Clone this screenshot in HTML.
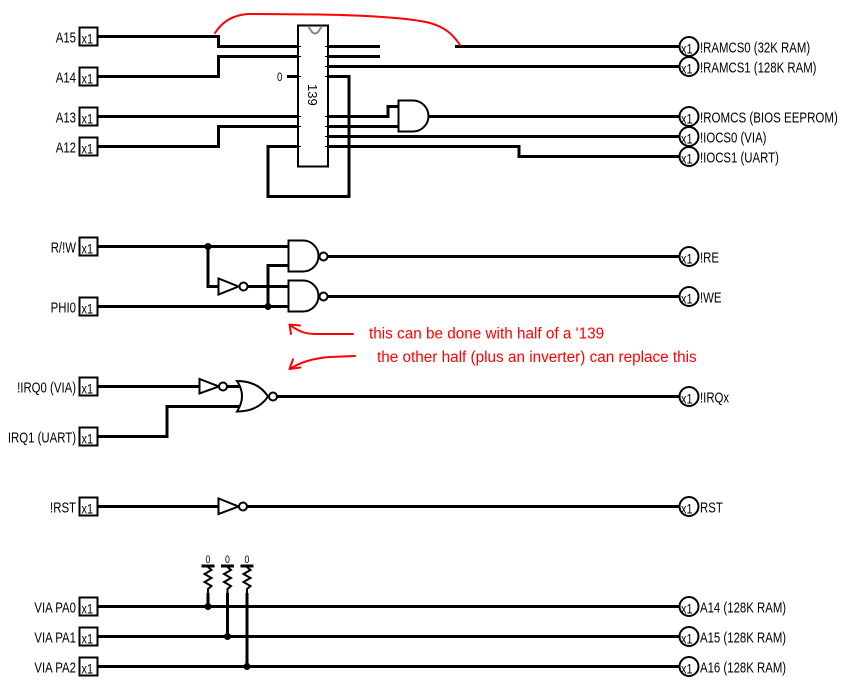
<!DOCTYPE html>
<html>
<head>
<meta charset="utf-8">
<style>
  html, body { margin: 0; padding: 0; background: #fff; }
  svg { display: block; }
  text { font-family: "Liberation Sans", Arial, sans-serif; }
</style>
</head>
<body>
<svg width="845" height="681" viewBox="0 0 845 681" xmlns="http://www.w3.org/2000/svg">
  <rect x="0" y="0" width="845" height="681" fill="#fff"/>

  <!-- wires -->
  <g fill="none" stroke="#000" stroke-width="3" stroke-linejoin="miter">
    <path d="M98 36.5 H218.5 V46.5 H298"/>
    <path d="M328 46.5 H380"/>
    <path d="M455 46.5 H680"/>
    <path d="M98 76.5 H218.5 V56.5 H298"/>
    <path d="M328 56.5 H380"/>
    <path d="M328 66.5 H680"/>
    <path d="M287 76.5 H298"/>
    <path d="M328 76.5 H349 V196.5 H268 V146.5 H298"/>
    <path d="M98 116.5 H298"/>
    <path d="M328 116.5 H388 V106.5 H399"/>
    <path d="M98 146.5 H218.5 V126.5 H298"/>
    <path d="M328 126.5 H399"/>
    <path d="M428 116.5 H680"/>
    <path d="M328 136.5 H680"/>
    <path d="M328 146.5 H519 V156.5 H680"/>

    <path d="M98 246.5 H289"/>
    <path d="M208 246.5 V286.5 H219"/>
    <path d="M248 286.5 H289"/>
    <path d="M98 306.5 H289"/>
    <path d="M268 306.5 V265.5 H289"/>
    <path d="M327 256.5 H680"/>
    <path d="M327 296.5 H680"/>

    <path d="M98 386.5 H200"/>
    <path d="M227 386.5 H241"/>
    <path d="M98 436.5 H167 V406.5 H241"/>
    <path d="M277 396.5 H680"/>

    <path d="M98 506.5 H219"/>
    <path d="M247 506.5 H680"/>

    <path d="M98 606.5 H680"/>
    <path d="M98 636.5 H680"/>
    <path d="M98 666.5 H680"/>
    <path d="M208 593 V606.5"/>
    <path d="M227.5 593 V636.5"/>
    <path d="M247 593 V666.5"/>
  </g>

  <!-- 139 chip -->
  <rect x="298" y="25.5" width="30" height="141" fill="#fff" stroke="#000" stroke-width="2"/>
  <path d="M308 26 L312 32 Q315 35 318 32 L322 26" fill="none" stroke="#888" stroke-width="2"/>
  <g stroke="#000" stroke-width="1">
    <path d="M296 46.5 H301 M296 56.5 H301 M296 76.5 H301 M296 116.5 H301 M296 126.5 H301 M296 146.5 H301"/>
    <path d="M325 46.5 H330 M325 56.5 H330 M325 66.5 H330 M325 76.5 H330 M325 116.5 H330 M325 126.5 H330 M325 136.5 H330 M325 146.5 H330"/>
  </g>
  <text transform="translate(308,84) rotate(90)" font-size="13" fill="#000">139</text>
  <text transform="translate(277,81) scale(0.8,1)" font-size="12" fill="#000">0</text>

  <!-- AND gate -->
  <path d="M398.5 100.5 H413 A15.5 15.5 0 0 1 413 131.5 H398.5 Z" fill="#fff" stroke="#000" stroke-width="2"/>

  <!-- NAND gates -->
  <path d="M288.5 240.5 H303 A15.5 15.5 0 0 1 303 271.5 H288.5 Z" fill="#fff" stroke="#000" stroke-width="2"/>
  <circle cx="323.5" cy="256.5" r="4" fill="#fff" stroke="#000" stroke-width="2"/>
  <path d="M288.5 280.5 H303 A15.5 15.5 0 0 1 303 311.5 H288.5 Z" fill="#fff" stroke="#000" stroke-width="2"/>
  <circle cx="323.5" cy="296.5" r="4" fill="#fff" stroke="#000" stroke-width="2"/>

  <!-- inverter R/W -->
  <path d="M218.5 278.5 L218.5 294.5 L238.5 286.5 Z" fill="#fff" stroke="#000" stroke-width="2"/>
  <circle cx="243.5" cy="286.5" r="4" fill="#fff" stroke="#000" stroke-width="2"/>

  <!-- inverter IRQ0 -->
  <path d="M199.5 379 L199.5 393.5 L219 386.5 Z" fill="#fff" stroke="#000" stroke-width="2"/>
  <circle cx="223" cy="386.5" r="4" fill="#fff" stroke="#000" stroke-width="2"/>

  <!-- NOR gate -->
  <path d="M237 381 Q258 381 268 396.5 Q258 411.5 237 411.5 Q247 396 237 381 Z" fill="#fff" stroke="#000" stroke-width="2"/>
  <circle cx="273" cy="396.5" r="4" fill="#fff" stroke="#000" stroke-width="2"/>

  <!-- inverter RST -->
  <path d="M218.5 498.5 L218.5 514 L238.5 506.5 Z" fill="#fff" stroke="#000" stroke-width="2"/>
  <circle cx="243" cy="506.5" r="4" fill="#fff" stroke="#000" stroke-width="2"/>

  <!-- resistors -->
  <g fill="none" stroke="#000">
    <path d="M201.5 566 H214.5" stroke-width="3"/>
    <polyline points="208,567 211.5,570 204.5,574 211.5,578 204.5,582 211.5,586 208,589 208,594" stroke-width="2"/>
    <path d="M221 566 H234" stroke-width="3"/>
    <polyline points="227.5,567 231,570 224,574 231,578 224,582 231,586 227.5,589 227.5,594" stroke-width="2"/>
    <path d="M240.5 566 H253.5" stroke-width="3"/>
    <polyline points="247,567 250.5,570 243.5,574 250.5,578 243.5,582 250.5,586 247,589 247,594" stroke-width="2"/>
  </g>
  <g font-size="11" fill="#000">
    <text transform="translate(205.5,563) scale(0.8,1)">0</text>
    <text transform="translate(225,563) scale(0.8,1)">0</text>
    <text transform="translate(244.5,563) scale(0.8,1)">0</text>
  </g>

  <!-- junction dots -->
  <g fill="#000">
    <circle cx="208" cy="246.5" r="3.5"/>
    <circle cx="268" cy="306.5" r="3.5"/>
    <circle cx="208" cy="606.5" r="3.5"/>
    <circle cx="227.5" cy="636.5" r="3.5"/>
    <circle cx="247" cy="666.5" r="3.5"/>
  </g>

  <!-- input boxes -->
  <g fill="#fff" stroke="#000" stroke-width="2">
    <rect x="79.5" y="27.5" width="18" height="18"/>
    <rect x="79.5" y="67.5" width="18" height="18"/>
    <rect x="79.5" y="107.5" width="18" height="18"/>
    <rect x="79.5" y="137.5" width="18" height="18"/>
    <rect x="79.5" y="237.5" width="18" height="18"/>
    <rect x="79.5" y="297.5" width="18" height="18"/>
    <rect x="79.5" y="377.5" width="18" height="18"/>
    <rect x="79.5" y="427.5" width="18" height="18"/>
    <rect x="79.5" y="497.5" width="18" height="18"/>
    <rect x="79.5" y="597.5" width="18" height="18"/>
    <rect x="79.5" y="627.5" width="18" height="18"/>
    <rect x="79.5" y="657.5" width="18" height="18"/>
  </g>
  <g font-size="14" fill="#000">
    <text transform="translate(81.5,43.5) scale(0.78,1)">x1</text>
    <text transform="translate(81.5,83.5) scale(0.78,1)">x1</text>
    <text transform="translate(81.5,123.5) scale(0.78,1)">x1</text>
    <text transform="translate(81.5,153.5) scale(0.78,1)">x1</text>
    <text transform="translate(81.5,253.5) scale(0.78,1)">x1</text>
    <text transform="translate(81.5,313.5) scale(0.78,1)">x1</text>
    <text transform="translate(81.5,393.5) scale(0.78,1)">x1</text>
    <text transform="translate(81.5,443.5) scale(0.78,1)">x1</text>
    <text transform="translate(81.5,513.5) scale(0.78,1)">x1</text>
    <text transform="translate(81.5,613.5) scale(0.78,1)">x1</text>
    <text transform="translate(81.5,643.5) scale(0.78,1)">x1</text>
    <text transform="translate(81.5,673.5) scale(0.78,1)">x1</text>
  </g>

  <!-- input labels -->
  <g font-size="15" fill="#000" text-anchor="end">
    <text transform="translate(76,42.5) scale(0.76,1)">A15</text>
    <text transform="translate(76,82.5) scale(0.76,1)">A14</text>
    <text transform="translate(76,122.5) scale(0.76,1)">A13</text>
    <text transform="translate(76,152.5) scale(0.76,1)">A12</text>
    <text transform="translate(76,252.5) scale(0.76,1)">R/!W</text>
    <text transform="translate(76,312.5) scale(0.76,1)">PHI0</text>
    <text transform="translate(76,392.5) scale(0.76,1)">!IRQ0 (VIA)</text>
    <text transform="translate(76,442.5) scale(0.76,1)">IRQ1 (UART)</text>
    <text transform="translate(76,512.5) scale(0.76,1)">!RST</text>
    <text transform="translate(76,612.5) scale(0.76,1)">VIA PA0</text>
    <text transform="translate(76,642.5) scale(0.76,1)">VIA PA1</text>
    <text transform="translate(76,672.5) scale(0.76,1)">VIA PA2</text>
  </g>

  <!-- output circles -->
  <g fill="#fff" stroke="#000" stroke-width="2">
    <circle cx="689" cy="46.5" r="9.5"/>
    <circle cx="689" cy="66.5" r="9.5"/>
    <circle cx="689" cy="116.5" r="9.5"/>
    <circle cx="689" cy="136.5" r="9.5"/>
    <circle cx="689" cy="156.5" r="9.5"/>
    <circle cx="689" cy="256.5" r="9.5"/>
    <circle cx="689" cy="296.5" r="9.5"/>
    <circle cx="689" cy="396.5" r="9.5"/>
    <circle cx="689" cy="506.5" r="9.5"/>
    <circle cx="689" cy="606.5" r="9.5"/>
    <circle cx="689" cy="636.5" r="9.5"/>
    <circle cx="689" cy="666.5" r="9.5"/>
  </g>
  <g font-size="14" fill="#000">
    <text transform="translate(681,53.5) scale(0.78,1)">x1</text>
    <text transform="translate(681,73.5) scale(0.78,1)">x1</text>
    <text transform="translate(681,123.5) scale(0.78,1)">x1</text>
    <text transform="translate(681,143.5) scale(0.78,1)">x1</text>
    <text transform="translate(681,163.5) scale(0.78,1)">x1</text>
    <text transform="translate(681,263.5) scale(0.78,1)">x1</text>
    <text transform="translate(681,303.5) scale(0.78,1)">x1</text>
    <text transform="translate(681,403.5) scale(0.78,1)">x1</text>
    <text transform="translate(681,513.5) scale(0.78,1)">x1</text>
    <text transform="translate(681,613.5) scale(0.78,1)">x1</text>
    <text transform="translate(681,643.5) scale(0.78,1)">x1</text>
    <text transform="translate(681,673.5) scale(0.78,1)">x1</text>
  </g>

  <!-- output labels -->
  <g font-size="15" fill="#000">
    <text transform="translate(700,52.5) scale(0.76,1)">!RAMCS0 (32K RAM)</text>
    <text transform="translate(700,72.5) scale(0.76,1)">!RAMCS1 (128K RAM)</text>
    <text transform="translate(700,122.5) scale(0.77,1)">!ROMCS (BIOS EEPROM)</text>
    <text transform="translate(700,142.5) scale(0.76,1)">!IOCS0 (VIA)</text>
    <text transform="translate(700,162.5) scale(0.76,1)">!IOCS1 (UART)</text>
    <text transform="translate(700,262.5) scale(0.76,1)">!RE</text>
    <text transform="translate(700,302.5) scale(0.76,1)">!WE</text>
    <text transform="translate(700,402.5) scale(0.76,1)">!IRQx</text>
    <text transform="translate(700,512.5) scale(0.76,1)">RST</text>
    <text transform="translate(700,612.5) scale(0.76,1)">A14 (128K RAM)</text>
    <text transform="translate(700,642.5) scale(0.76,1)">A15 (128K RAM)</text>
    <text transform="translate(700,672.5) scale(0.76,1)">A16 (128K RAM)</text>
  </g>

  <!-- red annotations -->
  <g fill="none" stroke="#ff0000" stroke-width="2" stroke-linecap="round">
    <path d="M215 33 C222 22 232 15 248 14 L320 14.5 C370 15.5 410 18 430 23 C444 27 452 33 460 45"/>
    <path d="M353 334 L315 334 C305 334 298 331 290 325"/>
    <path d="M289.5 324.5 L300 325.5 M289.5 324.5 L291 334"/>
    <path d="M355 356 L330 357 C315 358 300 362 290 369"/>
    <path d="M289.5 369 L293 359.5 M289.5 369 L300.5 367.5"/>
  </g>
  <g font-size="15.3" fill="#ff0000">
    <text x="369" y="338.5">this can be done with half of a '139</text>
    <text x="377" y="362">the other half (plus an inverter) can replace this</text>
  </g>
</svg>
</body>
</html>
